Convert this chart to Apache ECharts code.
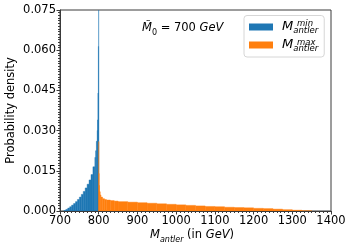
<!DOCTYPE html>
<html><head><meta charset="utf-8">
<script src="https://cdn.jsdelivr.net/npm/echarts@6/dist/echarts.min.js"></script>
<style>html,body{margin:0;padding:0;background:#fff}#c{width:352px;height:249px}</style>
</head><body><div id="c"></div>
<script>
// Histogram of M_antler^min (blue): bin edges and densities
const minEdges = [710,715,720,725,730,735,740,745,750,755,760,765,770,775,780,785,790,792,794,796,797,798,799,799.7,800];
const minDensity = [0.0002,0.0006,0.0011,0.0016,0.0022,0.0028,0.0035,0.0043,0.0052,0.0062,0.0073,0.0086,0.0100,0.0116,0.0136,0.0165,0.0200,0.0225,0.0260,0.0300,0.0340,0.0440,0.0614,0.0760];
// Histogram of M_antler^max (orange)
const maxEdges = [800,800.5,801,802,804,806,810,815,820,830,840,850,875,900,925,950,975,1000,1025,1050,1075,1100,1125,1150,1175,1200,1225,1250,1275,1300,1325,1350];
const maxDensity = [0.0259,0.0140,0.0095,0.0072,0.0060,0.0052,0.0046,0.0043,0.0041,0.0039,0.0037,0.0035,0.0033,0.0031,0.0029,0.0027,0.0025,0.0023,0.0021,0.0019,0.0017,0.0016,0.0014,0.0013,0.0012,0.0010,0.0009,0.0007,0.0005,0.0003,0.0001];
const xTicks = [700,800,900,1000,1100,1200,1300,1400];
const yTicks = [0.000,0.015,0.030,0.045,0.060,0.075];

const BLUE = '#1f77b4', ORANGE = '#ff7f0e';
const FONT = 'DejaVu Sans';

function binData(edges, dens){
  const out = [];
  for (let i = 0; i < dens.length; i++) out.push([edges[i], edges[i+1], dens[i]]);
  return out;
}
function histRender(color){
  return function(params, api){
    const p0 = api.coord([api.value(0), api.value(2)]);
    const p1 = api.coord([api.value(1), 0]);
    return {type:'rect', shape:{x:p0[0], y:p0[1], width:p1[0]-p0[0], height:p1[1]-p0[1]},
      style:{fill:color, stroke:color, lineWidth:0.4}};
  };
}

const chart = echarts.init(document.getElementById('c'), null, {renderer:'canvas'});
const axisCol = '#3a3a3a';
chart.setOption({
  animation:false,
  textStyle:{fontFamily:FONT},
  grid:{left:60, right:21, top:10, bottom:38, containLabel:false, outerBoundsMode:'none',
    show:true, borderColor:axisCol, borderWidth:1, backgroundColor:'transparent'},
  xAxis:{type:'value', min:xTicks[0], max:xTicks[xTicks.length-1], interval:100,
    axisLine:{show:true, lineStyle:{color:axisCol}}, splitLine:{show:false},
    axisTick:{show:true, length:3.5, lineStyle:{color:axisCol}},
    minorTick:{show:true, splitNumber:10, length:2, lineStyle:{color:axisCol}},
    axisLabel:{color:'#000', fontSize:11.5, fontFamily:FONT, margin:4, formatter:v=>String(v)}
  },
  yAxis:{type:'value', min:yTicks[0], max:yTicks[yTicks.length-1], interval:0.015,
    axisLine:{show:true, lineStyle:{color:axisCol}}, splitLine:{show:false},
    axisTick:{show:true, length:3.5, lineStyle:{color:axisCol}},
    minorTick:{show:true, splitNumber:15, length:2, lineStyle:{color:axisCol}},
    axisLabel:{color:'#000', fontSize:11.5, fontFamily:FONT, margin:4, formatter:v=>v.toFixed(3)},
    name:'Probability density', nameLocation:'middle', nameGap:43, nameRotate:90, nameMoveOverlap:false,
    nameTextStyle:{color:'#000', fontSize:11.5, fontFamily:FONT}
  },
  legend:{show:true, left:244, top:15.5, orient:'vertical', padding:[5,6,4,5], itemGap:3.5,
    itemWidth:24, itemHeight:7, backgroundColor:'#fff', borderColor:'#d6d6d6', borderWidth:1, borderRadius:3,
    data:[{name:'min', icon:'rect'},{name:'max', icon:'rect'}],
    formatter:function(){ return '{m|M}{s|antler}'; },
    textStyle:{rich:{
      m:{fontFamily:FONT, fontStyle:'italic', fontSize:13, color:'#000', padding:[0,0,0,4], lineHeight:16, verticalAlign:'middle'},
      s:{fontFamily:FONT, fontStyle:'italic', fontSize:8.5, color:'#000', lineHeight:16, verticalAlign:'bottom'}
    }}
  },
  graphic:[
    {type:'text', left:297, top:19, style:{text:'min', font:'italic 8.5px "DejaVu Sans"', fill:'#000'}, z:100},
    {type:'text', left:297, top:38.5, style:{text:'max', font:'italic 8.5px "DejaVu Sans"', fill:'#000'}, z:100},
    {type:'text', left:142, top:22, style:{text:'{i|M\u0303}{s|0}{n| = 700 }{i|GeV}', rich:{
      i:{fontFamily:FONT, fontStyle:'italic', fontSize:11.5, lineHeight:18, verticalAlign:'middle', fill:'#000'},
      s:{fontFamily:FONT, fontSize:8, lineHeight:18, verticalAlign:'bottom', fill:'#000'},
      n:{fontFamily:FONT, fontSize:11.5, lineHeight:18, verticalAlign:'middle', fill:'#000'}
    }}},
    {type:'text', left:150, top:229, style:{text:'{i|M}{s|antler}{n| (in }{i|GeV}{n|)}', rich:{
      i:{fontFamily:FONT, fontStyle:'italic', fontSize:11.5, lineHeight:18, verticalAlign:'middle', fill:'#000'},
      s:{fontFamily:FONT, fontStyle:'italic', fontSize:8, lineHeight:18, verticalAlign:'bottom', fill:'#000'},
      n:{fontFamily:FONT, fontSize:11.5, lineHeight:18, verticalAlign:'middle', fill:'#000'}
    }}}
  ],
  series:[
    {name:'min', type:'custom', renderItem:histRender(BLUE), itemStyle:{color:BLUE}, data:binData(minEdges, minDensity), encode:{x:[0,1], y:2}, clip:true},
    {name:'max', type:'custom', renderItem:histRender(ORANGE), itemStyle:{color:ORANGE}, data:binData(maxEdges, maxDensity), encode:{x:[0,1], y:2}, clip:true}
  ]
});
</script></body></html>
